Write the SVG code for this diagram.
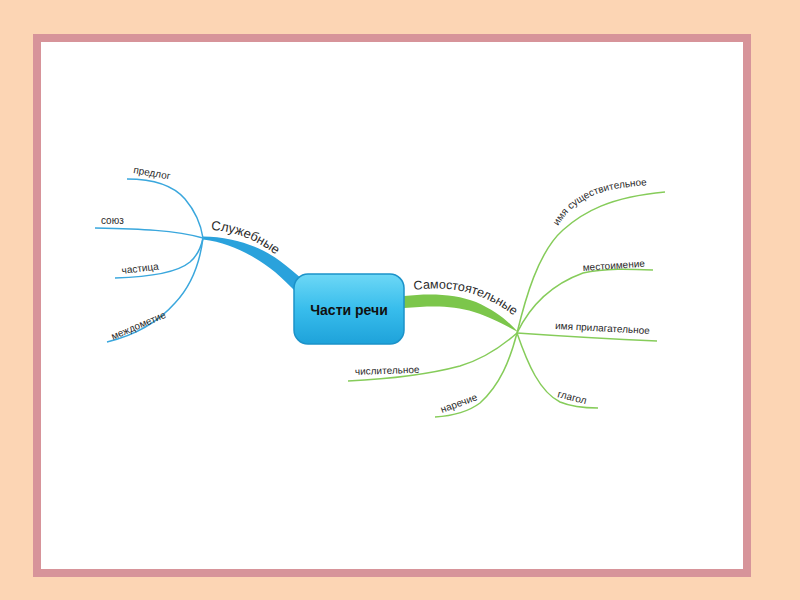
<svg xmlns="http://www.w3.org/2000/svg" width="800" height="600" viewBox="0 0 800 600">
<style>
.leaf{font-family:"Liberation Sans",Arial,sans-serif;font-size:10px;fill:#2a2a2a}
.trunk{font-family:"Liberation Sans",Arial,sans-serif;font-size:13px;fill:#2a2a2a}
.bl{fill:none;stroke:#3aa7dd;stroke-width:1.5}
.gl{fill:none;stroke:#86cc5a;stroke-width:1.5}
</style>
<defs>
<linearGradient id="ng" x1="0" y1="0" x2="0" y2="1">
<stop offset="0" stop-color="#6dd8f6"/>
<stop offset="0.5" stop-color="#38bdec"/>
<stop offset="1" stop-color="#1ea2da"/>
</linearGradient>
<path id="tpS" d="M211,230 C236,231 257,240 280,258"/>
<path id="tpG" d="M414,290 C455,284 492,295 524,324"/>
<path id="tpN" d="M558,226 C570,205 590,194 615,189 C632,186 646,185 662,185"/>
</defs>
<rect width="800" height="600" fill="#fcd5b4"/>
<rect x="39" y="40" width="712" height="537" fill="#c9a08e" opacity="0.5"/>
<rect x="37" y="38" width="710" height="535" fill="#ffffff" stroke="#d7949a" stroke-width="8"/>

<g id="connectors">
<path d="M203,236.5 C232,237 258,245 280,261 C288,267 295,273 302,279 L297,293 C290,286 283,279 275,272 C253,255 231,243 203,239.5 Z" fill="#2aa2dc"/>
<path d="M404,296 C430,293 456,294 476,302 C496,311 508,321 518,332 C506,326 493,318 474,312 C452,305 430,306 404,308 Z" fill="#7cc64b"/>
<path class="bl" d="M127,179 C150,179 172,184 185,199 C196,212 201,225 203,238"/>
<path class="bl" d="M95,228 C140,229 175,230 203,238"/>
<path class="bl" d="M115,278 C150,277 178,272 190,262 C198,255 201,248 203,238"/>
<path class="bl" d="M107,342 C140,334 160,320 175,303 C192,285 200,262 203,238"/>
<path class="gl" d="M517,333 C525,300 538,252 563,230 C583,212 610,197 665,192"/>
<path class="gl" d="M517,333 C530,306 550,285 583,273 C605,268 630,269 653,270"/>
<path class="gl" d="M517,333 C560,336 610,339 657,341"/>
<path class="gl" d="M517,333 C500,348 480,360 460,366 C430,374 390,379 348,381"/>
<path class="gl" d="M517,333 C510,360 500,385 480,403 C468,412 452,416 435,417"/>
<path class="gl" d="M517,333 C528,365 540,392 560,402 C572,407 585,408 598,408"/>
</g>

<g id="node-center">
<rect x="294" y="274" width="110" height="70" rx="14" fill="url(#ng)" stroke="#1b92c9" stroke-width="1.5"/>
<text x="349" y="315" text-anchor="middle" font-family="Liberation Sans,Arial,sans-serif" font-size="14" font-weight="bold" fill="#111">Части речи</text>
</g>

<g id="node-sluzhebnye">
<text class="trunk"><textPath href="#tpS">Служебные</textPath></text>
</g>
<g id="node-samostoyatelnye">
<text class="trunk" style="font-size:12.5px"><textPath href="#tpG">Самостоятельные</textPath></text>
</g>

<g id="node-predlog"><text class="leaf" transform="translate(133,173) rotate(10)">предлог</text></g>
<g id="node-soyuz"><text class="leaf" x="101" y="224">союз</text></g>
<g id="node-chastica"><text class="leaf" transform="translate(122,274) rotate(-7)">частица</text></g>
<g id="node-mezhdometie"><text class="leaf" transform="translate(113,340) rotate(-23)">междометие</text></g>

<g id="node-sushch"><text class="leaf"><textPath href="#tpN">имя существительное</textPath></text></g>
<g id="node-mestoimenie"><text class="leaf" transform="translate(583,271) rotate(-4)">местоимение</text></g>
<g id="node-prilag"><text class="leaf" transform="translate(555,329) rotate(3)">имя прилагательное</text></g>
<g id="node-chislit"><text class="leaf" transform="translate(355,375) rotate(-2)">числительное</text></g>
<g id="node-narechie"><text class="leaf" transform="translate(442,413) rotate(-20)">наречие</text></g>
<g id="node-glagol"><text class="leaf" transform="translate(557,397) rotate(14)">глагол</text></g>
</svg>
